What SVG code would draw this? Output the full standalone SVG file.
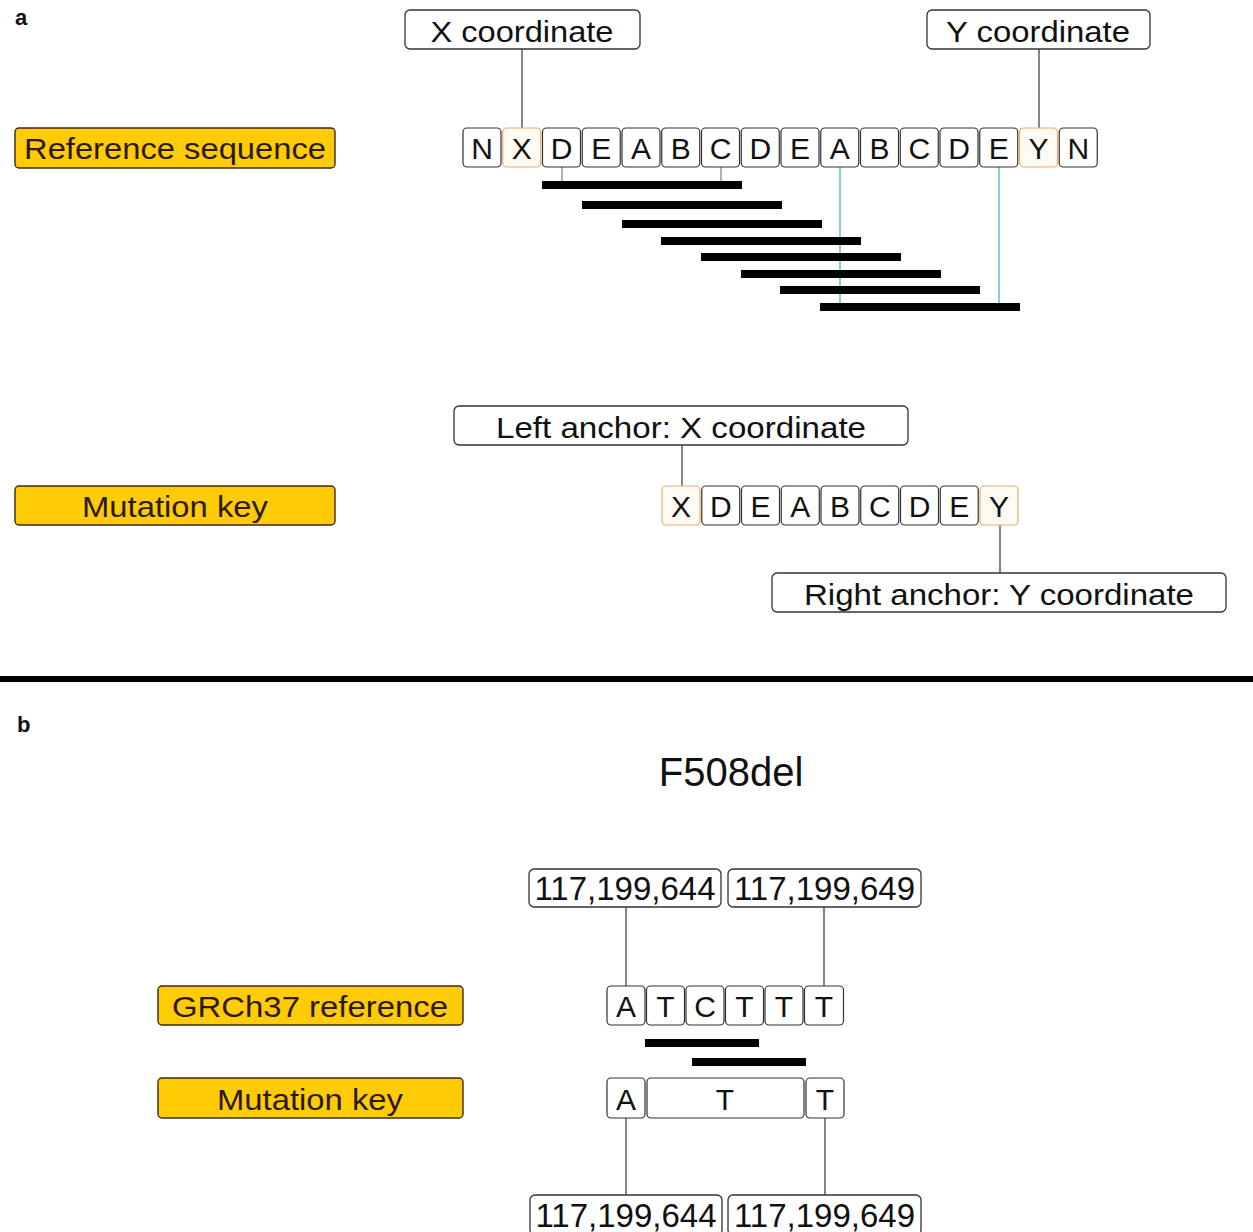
<svg xmlns="http://www.w3.org/2000/svg" width="1253" height="1232" viewBox="0 0 1253 1232">
<style>
text{font-family:"Liberation Sans",Arial,sans-serif;fill:#111;text-anchor:middle}
.lbl rect{fill:#ffcb05;stroke:#3b2a12;stroke-width:1.4}
.lbl text{font-size:29px;fill:#2a1a08}
.call rect{fill:#fff;stroke:#333;stroke-width:1.3}
.call text{font-size:29px}
.b{fill:#fff;stroke:#333;stroke-width:1.2}
.o{fill:#fffaf2;stroke:#e9ad70;stroke-width:1.2}
.s{font-size:30px}
.call text.n{font-size:33px}
.bar{fill:#000}
.con line{stroke:#444;stroke-width:1.3}
.con line.t{stroke:#888}
.con line.c{stroke:#5ab6c6;stroke-width:1.4}
.pl{font-size:22px;font-weight:bold;text-anchor:start}
</style>
<rect width="1253" height="1232" fill="#fff"/>
<text class="pl" x="15" y="25">a</text>
<text class="pl" x="17" y="732">b</text>

<g id="connectors" class="con">
<line x1="522" y1="49" x2="522" y2="128"/>
<line x1="1039" y1="49" x2="1039" y2="128"/>
<line class="t" x1="562" y1="167" x2="562" y2="181"/>
<line class="t" x1="721" y1="167" x2="721" y2="181"/>
<line class="c" x1="840" y1="167" x2="840" y2="307"/>
<line class="c" x1="999" y1="167" x2="999" y2="307"/>
<line x1="682" y1="445" x2="682" y2="486"/>
<line x1="1000" y1="525" x2="1000" y2="573"/>
<line x1="626" y1="907" x2="626" y2="986"/>
<line x1="824" y1="907" x2="824" y2="986"/>
<line x1="626" y1="1118" x2="626" y2="1195"/>
<line x1="825" y1="1118" x2="825" y2="1195"/>
</g>

<g id="label-reference-sequence" class="lbl"><rect x="15" y="128" width="320" height="40" rx="4"/><text x="175" y="159" textLength="302" lengthAdjust="spacingAndGlyphs">Reference sequence</text></g>
<g id="label-mutation-key-a" class="lbl"><rect x="15" y="486" width="320" height="39" rx="4"/><text x="175" y="517" textLength="186" lengthAdjust="spacingAndGlyphs">Mutation key</text></g>

<g id="x-coordinate" class="call"><rect x="405" y="10" width="235" height="39" rx="5"/><text x="522" y="42" textLength="183" lengthAdjust="spacingAndGlyphs">X coordinate</text></g>
<g id="y-coordinate" class="call"><rect x="927" y="10" width="223" height="39" rx="5"/><text x="1038" y="42" textLength="184" lengthAdjust="spacingAndGlyphs">Y coordinate</text></g>

<g id="reference-sequence">
<rect class="b" x="463" y="128" width="38" height="39" rx="4"/><text class="s" x="482" y="159">N</text>
<rect class="o" x="502.75" y="128" width="38" height="39" rx="4"/><text class="s" x="521.75" y="159">X</text>
<rect class="b" x="542.5" y="128" width="38" height="39" rx="4"/><text class="s" x="561.5" y="159">D</text>
<rect class="b" x="582.25" y="128" width="38" height="39" rx="4"/><text class="s" x="601.25" y="159">E</text>
<rect class="b" x="622" y="128" width="38" height="39" rx="4"/><text class="s" x="641" y="159">A</text>
<rect class="b" x="661.75" y="128" width="38" height="39" rx="4"/><text class="s" x="680.75" y="159">B</text>
<rect class="b" x="701.5" y="128" width="38" height="39" rx="4"/><text class="s" x="720.5" y="159">C</text>
<rect class="b" x="741.25" y="128" width="38" height="39" rx="4"/><text class="s" x="760.25" y="159">D</text>
<rect class="b" x="781" y="128" width="38" height="39" rx="4"/><text class="s" x="800" y="159">E</text>
<rect class="b" x="820.75" y="128" width="38" height="39" rx="4"/><text class="s" x="839.75" y="159">A</text>
<rect class="b" x="860.5" y="128" width="38" height="39" rx="4"/><text class="s" x="879.5" y="159">B</text>
<rect class="b" x="900.25" y="128" width="38" height="39" rx="4"/><text class="s" x="919.25" y="159">C</text>
<rect class="b" x="940" y="128" width="38" height="39" rx="4"/><text class="s" x="959" y="159">D</text>
<rect class="b" x="979.75" y="128" width="38" height="39" rx="4"/><text class="s" x="998.75" y="159">E</text>
<rect class="o" x="1019.5" y="128" width="38" height="39" rx="4"/><text class="s" x="1038.5" y="159">Y</text>
<rect class="b" x="1059.25" y="128" width="38" height="39" rx="4"/><text class="s" x="1078.25" y="159">N</text>
</g>

<g id="reads">
<rect class="bar" x="542" y="181" width="200" height="8"/>
<rect class="bar" x="582" y="201" width="200" height="8"/>
<rect class="bar" x="622" y="220" width="200" height="8"/>
<rect class="bar" x="661" y="237" width="200" height="8"/>
<rect class="bar" x="701" y="253" width="200" height="8"/>
<rect class="bar" x="741" y="270" width="200" height="8"/>
<rect class="bar" x="780" y="286" width="200" height="8"/>
<rect class="bar" x="820" y="303" width="200" height="8"/>
</g>

<g id="left-anchor" class="call"><rect x="454" y="406" width="454" height="39" rx="5"/><text x="681" y="438" textLength="370" lengthAdjust="spacingAndGlyphs">Left anchor: X coordinate</text></g>

<g id="mutation-key-sequence">
<rect class="o" x="662" y="486" width="38" height="39" rx="4"/><text class="s" x="681" y="517">X</text>
<rect class="b" x="701.75" y="486" width="38" height="39" rx="4"/><text class="s" x="720.75" y="517">D</text>
<rect class="b" x="741.5" y="486" width="38" height="39" rx="4"/><text class="s" x="760.5" y="517">E</text>
<rect class="b" x="781.25" y="486" width="38" height="39" rx="4"/><text class="s" x="800.25" y="517">A</text>
<rect class="b" x="821" y="486" width="38" height="39" rx="4"/><text class="s" x="840" y="517">B</text>
<rect class="b" x="860.75" y="486" width="38" height="39" rx="4"/><text class="s" x="879.75" y="517">C</text>
<rect class="b" x="900.5" y="486" width="38" height="39" rx="4"/><text class="s" x="919.5" y="517">D</text>
<rect class="b" x="940.25" y="486" width="38" height="39" rx="4"/><text class="s" x="959.25" y="517">E</text>
<rect class="o" x="980" y="486" width="38" height="39" rx="4"/><text class="s" x="999" y="517">Y</text>
</g>

<g id="right-anchor" class="call"><rect x="772" y="573" width="454" height="39" rx="5"/><text x="999" y="605" textLength="390" lengthAdjust="spacingAndGlyphs">Right anchor: Y coordinate</text></g>

<rect id="divider" x="0" y="676" width="1253" height="6" fill="#000"/>

<text id="title-f508del" x="731" y="786" style="font-size:40px">F508del</text>

<g id="coord-top-644" class="call"><rect x="529" y="869" width="192" height="38" rx="5"/><text class="n" x="625" y="900">117,199,644</text></g>
<g id="coord-top-649" class="call"><rect x="728" y="869" width="193" height="38" rx="5"/><text class="n" x="824.5" y="900">117,199,649</text></g>

<g id="label-grch37" class="lbl"><rect x="158" y="986" width="305" height="39" rx="4"/><text x="310" y="1017" textLength="276" lengthAdjust="spacingAndGlyphs">GRCh37 reference</text></g>
<g id="label-mutation-key-b" class="lbl"><rect x="158" y="1078" width="305" height="40" rx="4"/><text x="310" y="1110" textLength="186" lengthAdjust="spacingAndGlyphs">Mutation key</text></g>

<g id="grch37-sequence">
<rect class="b" x="607" y="986" width="38" height="39" rx="4"/><text class="s" x="626" y="1017">A</text>
<rect class="b" x="646.5" y="986" width="38" height="39" rx="4"/><text class="s" x="665.5" y="1017">T</text>
<rect class="b" x="686" y="986" width="38" height="39" rx="4"/><text class="s" x="705" y="1017">C</text>
<rect class="b" x="725.5" y="986" width="38" height="39" rx="4"/><text class="s" x="744.5" y="1017">T</text>
<rect class="b" x="765" y="986" width="38" height="39" rx="4"/><text class="s" x="784" y="1017">T</text>
<rect class="b" x="804.5" y="986" width="39" height="39" rx="4"/><text class="s" x="824" y="1017">T</text>
</g>

<g id="reads-b">
<rect class="bar" x="645" y="1039" width="114" height="8"/>
<rect class="bar" x="692" y="1058" width="114" height="8"/>
</g>

<g id="mutation-key-b-sequence">
<rect class="b" x="607" y="1078" width="38" height="40" rx="4"/><text class="s" x="626" y="1110">A</text>
<rect class="b" x="647" y="1078" width="157" height="40" rx="4"/><text class="s" x="725" y="1110">T</text>
<rect class="b" x="806" y="1078" width="38" height="40" rx="4"/><text class="s" x="825" y="1110">T</text>
</g>

<g id="coord-bottom-644" class="call"><rect x="530" y="1195" width="192" height="40" rx="5"/><text class="n" x="626" y="1227">117,199,644</text></g>
<g id="coord-bottom-649" class="call"><rect x="728" y="1195" width="193" height="40" rx="5"/><text class="n" x="824.5" y="1227">117,199,649</text></g>
</svg>
